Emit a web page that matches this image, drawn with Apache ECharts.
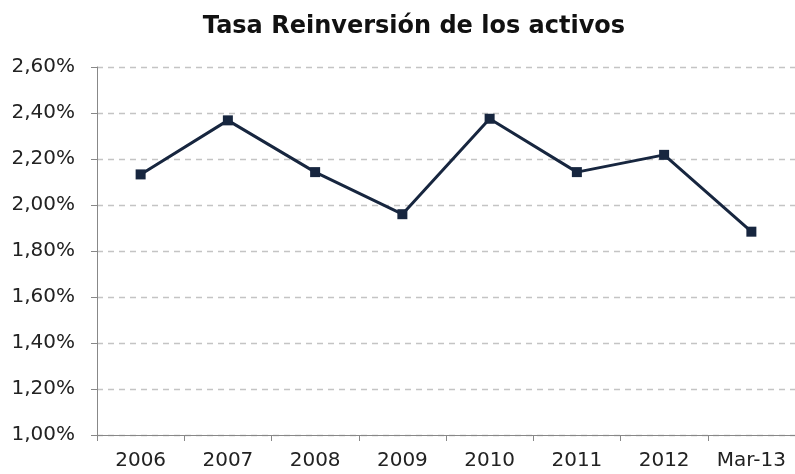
<!DOCTYPE html>
<html>
<head>
<meta charset="utf-8">
<script src="https://cdn.jsdelivr.net/npm/echarts@6/dist/echarts.min.js"></script>
<style>
  html, body { margin: 0; padding: 0; background: #fff; }
  #chart { width: 795px; height: 474px; }
</style>
</head>
<body>
<div id="chart"></div>
<script>
// datos del gráfico
var categorias = ['2006', '2007', '2008', '2009', '2010', '2011', '2012', 'Mar-13'];
var tasa = [2.133, 2.368, 2.143, 1.960, 2.375, 2.143, 2.218, 1.884];
var titulo = 'Tasa Reinversión de los activos';

var chart = echarts.init(document.getElementById('chart'));

var option = {
  animation: false,
  title: {
    text: titulo,
    left: 409,
    textAlign: 'center',
    top: 10,
    textStyle: {
      fontFamily: 'DejaVu Sans',
      fontSize: 24,
      fontWeight: 'bold',
      color: '#111'
    }
  },
  grid: {
    left: 97,
    top: 67,
    right: -3,
    bottom: 39,
    containLabel: false
  },
  xAxis: {
    type: 'category',
    data: categorias,
    boundaryGap: true,
    axisLine: { lineStyle: { color: '#888', width: 1 } },
    axisTick: { show: true, interval: 0, length: 6, alignWithLabel: false, lineStyle: { color: '#888' } },
    axisLabel: {
      interval: 0,
      hideOverlap: false,
      fontFamily: 'DejaVu Sans',
      fontSize: 20,
      color: '#222',
      margin: 16
    }
  },
  yAxis: {
    type: 'value',
    min: 1.0,
    max: 2.6,
    interval: 0.2,
    axisLine: { show: true, lineStyle: { color: '#888', width: 1 } },
    axisTick: { show: true, length: 6, lineStyle: { color: '#888' } },
    splitLine: { lineStyle: { color: '#c4c4c4', type: [6, 5], width: 1.3 } },
    axisLabel: {
      fontFamily: 'DejaVu Sans',
      fontSize: 20,
      color: '#222',
      margin: 22,
      formatter: function (v) { return v.toFixed(2).replace('.', ',') + '%'; }
    }
  },
  series: [{
    type: 'line',
    data: tasa,
    symbol: 'rect',
    symbolSize: 10,
    lineStyle: { color: '#17263f', width: 3 },
    itemStyle: { color: '#17263f' }
  }]
};

chart.setOption(option);
</script>
</body>
</html>
